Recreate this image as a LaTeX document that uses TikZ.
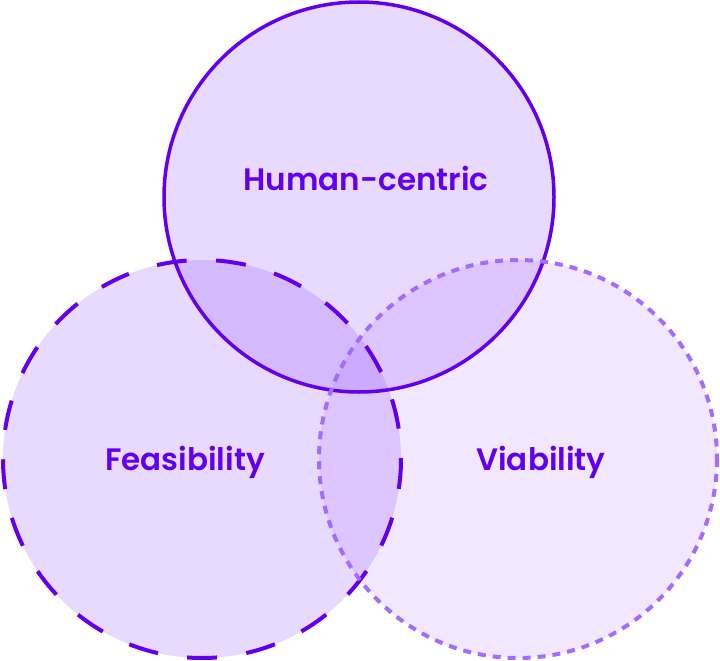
\documentclass[tikz,border=0pt]{standalone}
\usepackage{fontspec}
\setmainfont{Poppins}[BoldFont={Poppins SemiBold}]
\usetikzlibrary{positioning}

\definecolor{ink}{HTML}{6200EE}
\definecolor{inklight}{HTML}{A46BFF}
\definecolor{wash}{RGB}{128,44,255}

\tikzset{
  ring/.style={circle, inner sep=0pt, fill=wash},
  label/.style={text=ink, font=\fontsize{31}{36}\selectfont\bfseries}
}

\begin{document}
\begin{tikzpicture}[x=1pt,y=-1pt]

    \useasboundingbox (0,0) rectangle (720,661);

    % fills
    \node[ring, fill opacity=0.18, minimum size=398pt] (feas) at (202,459) {};
    \node[ring, fill opacity=0.11, minimum size=398pt] (viab) at (518,459) {};
    \node[ring, fill opacity=0.18, minimum size=390pt] (human) at (359,197) {};

    % outlines
    \draw[ink, line width=3.5pt] (human.center) circle (195);
    \draw[ink, line width=4pt, dash pattern=on 30pt off 29.5pt] (feas.center) circle (199);
    \draw[inklight, line width=4pt, dash pattern=on 8pt off 7pt] (viab.center) circle (199);

    \node[label] (t_human) at (366,178) {Human-centric};
    \node[label] (t_feas) at (185,462) {Feasibility};
    \node[label] (t_viab) at (541,462) {Viability};

\end{tikzpicture}
\end{document}
